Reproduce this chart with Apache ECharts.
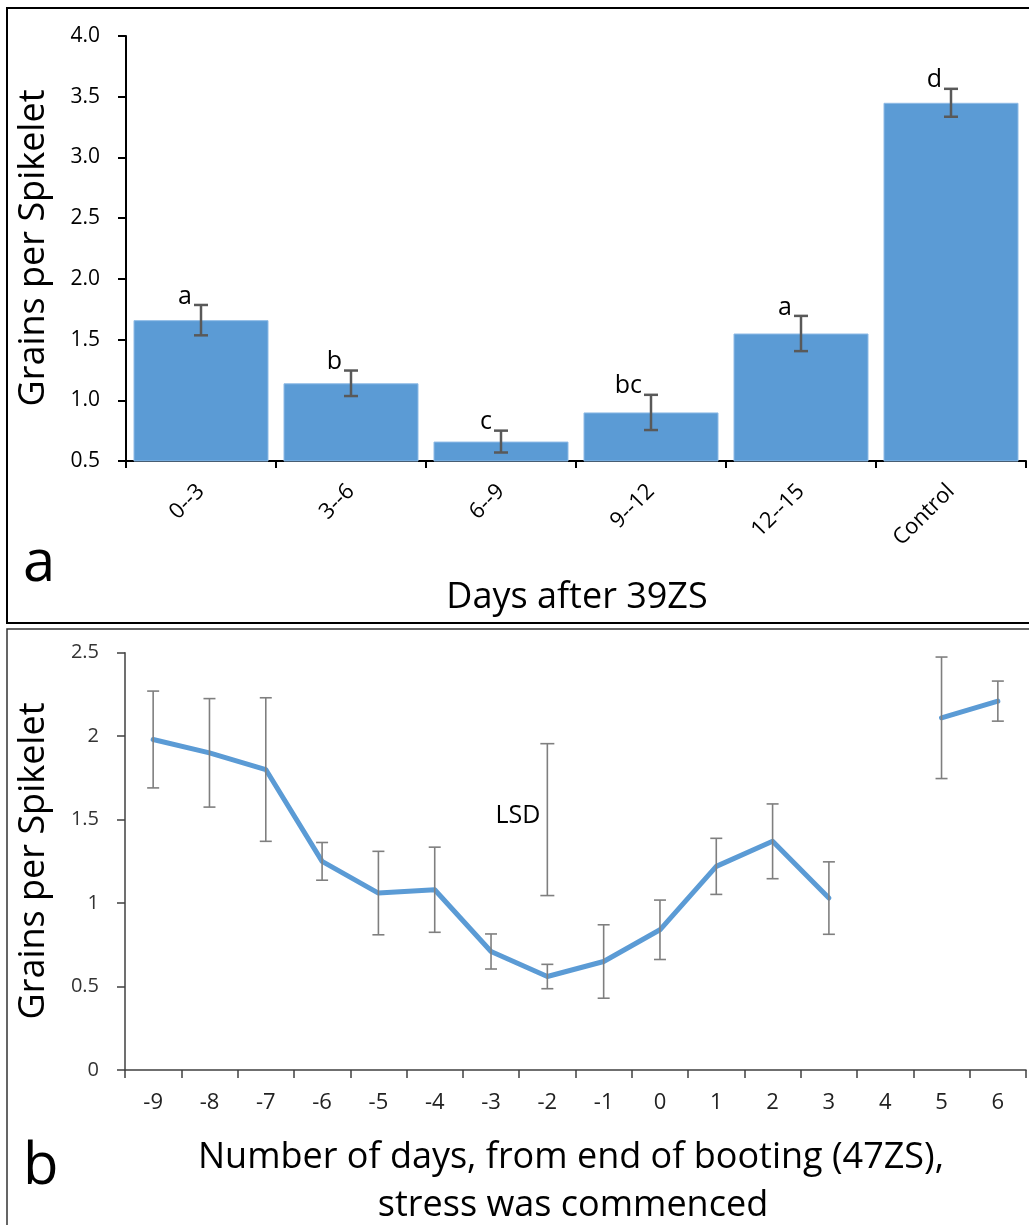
<!DOCTYPE html>
<html>
<head>
<meta charset="utf-8">
<script src="https://cdn.jsdelivr.net/npm/echarts@6/dist/echarts.min.js"></script>
<style>
  html, body { margin: 0; padding: 0; background: #fff; }
  #chart { width: 1029px; height: 1225px; }
</style>
</head>
<body>
<div id="chart"></div>
<script>
// Panel a: grains per spikelet for each 3-day stress window after 39ZS
const stressWindows = ['0--3', '3--6', '6--9', '9--12', '12--15', 'Control'];
const barMeans = [1.66, 1.14, 0.66, 0.90, 1.55, 3.45];
const barErrors = [0.125, 0.105, 0.09, 0.145, 0.145, 0.115];
const sigLetters = ['a', 'b', 'c', 'bc', 'a', 'd'];

// Panel b: grains per spikelet by day stress was commenced (relative to 47ZS)
const stressDays = ['-9', '-8', '-7', '-6', '-5', '-4', '-3', '-2', '-1', '0', '1', '2', '3', '4', '5', '6'];
const lineMeans = [1.98, 1.90, 1.80, 1.25, 1.06, 1.08, 0.71, 0.56, 0.65, 0.84, 1.22, 1.37, 1.03, null, 2.11, 2.21];
const lineErrors = [0.29, 0.325, 0.43, 0.113, 0.25, 0.255, 0.105, 0.073, 0.22, 0.178, 0.168, 0.224, 0.217, null, 0.364, 0.12];

// Least significant difference bar, drawn at day -2
const lsdDay = '-2';
const lsdCentre = 1.5;
const lsdValue = 0.91;

const FONT = '"Open Sans", "Noto Sans", sans-serif';
const BLUE = '#5B9BD5';

const barErrData = barMeans.map((m, i) => [i, m - barErrors[i], m + barErrors[i]]);
const lineErrData = [];
lineMeans.forEach((m, i) => {
  if (m != null) lineErrData.push([i, m - lineErrors[i], m + lineErrors[i]]);
});
const lsdIndex = stressDays.indexOf(lsdDay);
const lsdData = [[lsdIndex, lsdCentre - lsdValue / 2, lsdCentre + lsdValue / 2]];

function whisker(x, lo, hi, cap, style) {
  return [
    { type: 'line', shape: { x1: x, y1: lo, x2: x, y2: hi }, style },
    { type: 'line', shape: { x1: x - cap, y1: hi, x2: x + cap, y2: hi }, style },
    { type: 'line', shape: { x1: x - cap, y1: lo, x2: x + cap, y2: lo }, style }
  ];
}

function renderBarErr(params, api) {
  const i = api.value(0);
  const lo = api.coord([i, api.value(1)]);
  const hi = api.coord([i, api.value(2)]);
  const style = { stroke: '#595959', lineWidth: 2.5 };
  const children = whisker(lo[0], lo[1], hi[1], 7, style);
  children.push({
    type: 'text', x: lo[0] - 9, y: hi[1] + 4,
    style: { text: sigLetters[params.dataIndex], fontSize: 25, fontFamily: FONT,
             fill: '#000', align: 'right', verticalAlign: 'bottom' }
  });
  return { type: 'group', children };
}

function renderLineErr(params, api) {
  const i = api.value(0);
  const lo = api.coord([i, api.value(1)]);
  const hi = api.coord([i, api.value(2)]);
  return { type: 'group', children: whisker(lo[0], lo[1], hi[1], 6, { stroke: '#7f7f7f', lineWidth: 1.6 }) };
}

function renderLsd(params, api) {
  const i = api.value(0);
  const lo = api.coord([i, api.value(1)]);
  const hi = api.coord([i, api.value(2)]);
  const children = whisker(lo[0], lo[1], hi[1], 7, { stroke: '#7f7f7f', lineWidth: 1.6 });
  children.push({
    type: 'text', x: lo[0] - 7, y: (lo[1] + hi[1]) / 2 - 4,
    style: { text: 'LSD', fontSize: 25, fontFamily: FONT, fill: '#000',
             align: 'right', verticalAlign: 'middle' }
  });
  return { type: 'group', children };
}

const chart = echarts.init(document.getElementById('chart'), null, { renderer: 'canvas' });

chart.setOption({
  backgroundColor: '#fff',
  animation: false,
  grid: [
    { left: 126, right: 3, top: 36, height: 425 },
    { left: 125, right: 3, top: 652.7, height: 417.3 }
  ],
  xAxis: [
    {
      type: 'category', gridIndex: 0, data: stressWindows,
      axisLine: { onZero: false, lineStyle: { color: '#000', width: 2 } },
      axisTick: { show: true, length: 7, lineStyle: { color: '#000', width: 2 } },
      axisLabel: { rotate: 45, fontSize: 22, fontFamily: FONT, color: '#000', margin: 27 }
    },
    {
      type: 'category', gridIndex: 1, data: stressDays,
      axisLine: { onZero: false, lineStyle: { color: '#404040', width: 1.5 } },
      axisTick: { show: true, length: 8, lineStyle: { color: '#404040', width: 1.5 } },
      axisLabel: { fontSize: 22, fontFamily: FONT, color: '#222', margin: 22 }
    }
  ],
  yAxis: [
    {
      type: 'value', gridIndex: 0, min: 0.5, max: 4.0, interval: 0.5,
      axisLine: { show: true, lineStyle: { color: '#000', width: 2 } },
      axisTick: { show: true, length: 8, lineStyle: { color: '#000', width: 2 } },
      splitLine: { show: false },
      axisLabel: { fontSize: 21, fontFamily: FONT, color: '#000', margin: 26,
                   formatter: v => v.toFixed(1) }
    },
    {
      type: 'value', gridIndex: 1, min: 0, max: 2.5, interval: 0.5,
      axisLine: { show: true, lineStyle: { color: '#404040', width: 1.5 } },
      axisTick: { show: true, length: 8, lineStyle: { color: '#404040', width: 1.5 } },
      splitLine: { show: false },
      axisLabel: { fontSize: 20, fontFamily: FONT, color: '#333', margin: 26 }
    }
  ],
  series: [
    {
      type: 'bar', xAxisIndex: 0, yAxisIndex: 0, data: barMeans,
      barCategoryGap: '10%', clip: true,
      itemStyle: { color: BLUE, borderColor: '#8fbbe6', borderWidth: 1 }
    },
    {
      type: 'custom', xAxisIndex: 0, yAxisIndex: 0, data: barErrData,
      renderItem: renderBarErr, z: 5
    },
    {
      type: 'line', xAxisIndex: 1, yAxisIndex: 1, data: lineMeans,
      connectNulls: false, symbol: 'none',
      lineStyle: { color: BLUE, width: 5, cap: 'round', join: 'round' }, z: 3
    },
    {
      type: 'custom', xAxisIndex: 1, yAxisIndex: 1, data: lineErrData,
      renderItem: renderLineErr, z: 4
    },
    {
      type: 'custom', xAxisIndex: 1, yAxisIndex: 1, data: lsdData,
      renderItem: renderLsd, z: 4
    }
  ],
  graphic: [
    { type: 'rect', shape: { x: 7, y: 8, width: 1030, height: 615 },
      style: { fill: 'none', stroke: '#000', lineWidth: 2 }, silent: true },
    { type: 'rect', shape: { x: 7, y: 629, width: 1030, height: 620 },
      style: { fill: 'none', stroke: '#333', lineWidth: 1.5 }, silent: true },
    { type: 'text', x: 34, y: 248, rotation: Math.PI / 2,
      style: { text: 'Grains per Spikelet', fontSize: 36, fontFamily: FONT, fill: '#000',
               align: 'center', verticalAlign: 'middle' } },
    { type: 'text', x: 34, y: 861, rotation: Math.PI / 2,
      style: { text: 'Grains per Spikelet', fontSize: 36, fontFamily: FONT, fill: '#000',
               align: 'center', verticalAlign: 'middle' } },
    { type: 'text', x: 577, y: 598,
      style: { text: 'Days after 39ZS', fontSize: 36, fontFamily: FONT, fill: '#000',
               align: 'center', verticalAlign: 'middle' } },
    { type: 'text', x: 571, y: 1158,
      style: { text: 'Number of days, from end of booting (47ZS),', fontSize: 36, fontFamily: FONT,
               fill: '#000', align: 'center', verticalAlign: 'middle' } },
    { type: 'text', x: 573, y: 1206,
      style: { text: 'stress was commenced', fontSize: 36, fontFamily: FONT,
               fill: '#000', align: 'center', verticalAlign: 'middle' } },
    { type: 'text', x: 23, y: 564,
      style: { text: 'a', fontSize: 58, fontFamily: FONT, fill: '#000',
               align: 'left', verticalAlign: 'middle' } },
    { type: 'text', x: 23, y: 1167,
      style: { text: 'b', fontSize: 58, fontFamily: FONT, fill: '#000',
               align: 'left', verticalAlign: 'middle' } }
  ]
});
</script>
</body>
</html>
